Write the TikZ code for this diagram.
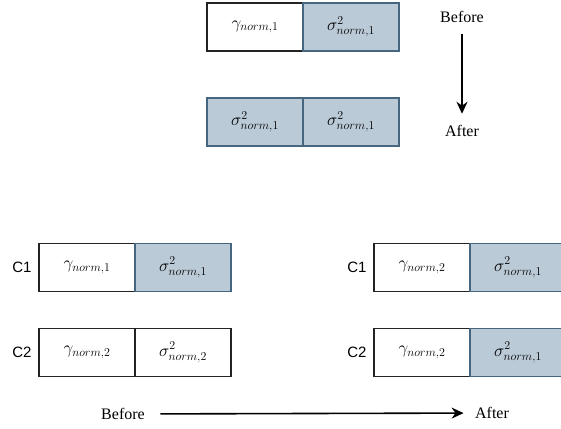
\documentclass[tikz,border=0pt]{standalone}
\usepackage{fontspec}
\setmainfont{Liberation Serif}
\setsansfont{Liberation Sans}
\usetikzlibrary{arrows.meta,positioning}
\definecolor{cellfill}{RGB}{187,202,215}
\definecolor{celledge}{RGB}{70,101,127}
\definecolor{cellblack}{RGB}{35,35,35}

\begin{document}
\begin{tikzpicture}
    [   x = 1pt, y = -1pt
    ,   > = {Stealth[length=12pt,width=11pt]}
    ,   cell/.style =
        {   draw = cellblack
        ,   line width = 1.8pt
        ,   rectangle
        ,   inner sep = 0mm
        ,   outer sep = 0mm
        ,   minimum width = 96pt
        ,   minimum height = 48pt
        ,   font = \fontsize{18}{20}\selectfont
        }
    ,   shared/.style =
        {   cell
        ,   draw = celledge
        ,   fill = cellfill
        }
    ,   tag/.style = {font = \sffamily\fontsize{15}{17}\selectfont}
    ,   when/.style = {font = \fontsize{16}{18}\selectfont}
    ]
    \useasboundingbox (0,0) rectangle (561,428);
    \clip (0,0) rectangle (561,428);

    % top: one layer, before and after
    \node[cell]   (T1a) at (255,27)  {$\gamma_{norm,1}$};
    \node[shared] (T1b) at (351,27)  {$\sigma^2_{norm,1}$};
    \node[shared] (T2a) at (255,122) {$\sigma^2_{norm,1}$};
    \node[shared] (T2b) at (351,122) {$\sigma^2_{norm,1}$};
    \node[when] (TB) at (462,17)  {Before};
    \node[when] (TA) at (462,131) {After};
    \draw[->, line width=1.6pt, shorten <=8pt, shorten >=8pt] (TB) to (TA);

    % bottom: two channels, before and after
    \foreach\x/\g/\s/\k in {0/1/1/1,1/2/2/2}
    {   \node[cell] (L\x a) at (87,267.5+85*\x) {$\gamma_{norm,\g}$};
        \node[tag, left=4pt of L\x a] (LC\x) {C\k};
    }
    \node[shared] (L0b) at (183,267.5) {$\sigma^2_{norm,1}$};
    \node[cell]   (L1b) at (183,352.5) {$\sigma^2_{norm,2}$};
    \foreach\x in {0,1}
    {   \pgfmathtruncatemacro\k{\x+1}
        \node[cell]   (R\x a) at (422,267.5+85*\x) {$\gamma_{norm,2}$};
        \node[shared] (R\x b) at (518,267.5+85*\x) {$\sigma^2_{norm,1}$};
        \node[tag, left=4pt of R\x a] (RC\x) {C\k};
    }
    \node[when] (BB) at (123,414) {Before};
    \node[when] (BA) at (492,413) {After};
    \draw[->, line width=1.6pt, shorten <=12pt, shorten >=8pt] (BB) to (BA);

\end{tikzpicture}
\end{document}
